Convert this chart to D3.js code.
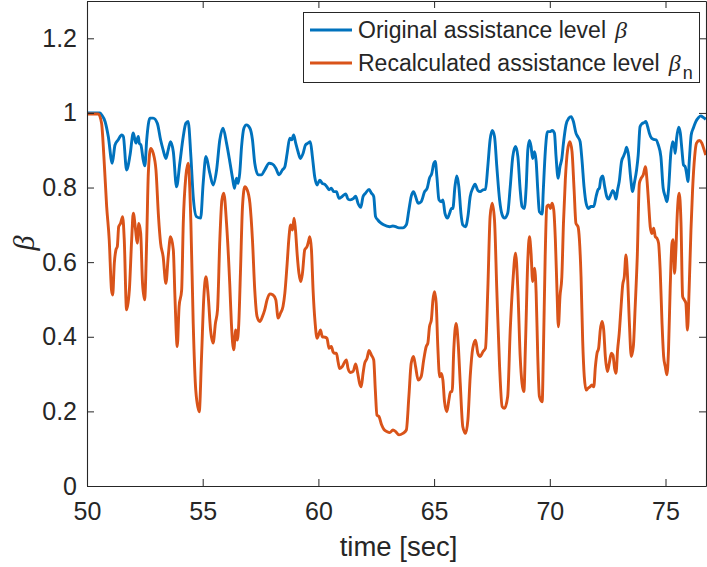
<!DOCTYPE html>
<html>
<head>
<meta charset="utf-8">
<script src="https://cdn.jsdelivr.net/npm/d3@7"></script>
<style>
  body { margin: 0; background: #fff; }
  #chart svg { display: block; }
</style>
</head>
<body>
<div id="chart"></div>
<script>
// Values: [time (s), beta]
const originalBeta = [
  [50.00,1.000],[50.56,1.000],[50.63,0.995],[50.78,0.977],[50.92,0.937],[51.09,0.865],[51.21,0.914],[51.35,0.928],
  [51.50,0.941],[51.57,0.937],[51.71,0.847],[51.86,0.887],[52.00,0.946],[52.11,0.919],[52.22,0.937],[52.26,0.919],
  [52.33,0.914],[52.43,0.874],[52.50,0.858],[52.58,0.928],[52.72,0.986],[52.86,0.986],[53.04,0.972],[53.18,0.928],
  [53.29,0.901],[53.41,0.878],[53.51,0.901],[53.61,0.923],[53.73,0.896],[53.87,0.802],[54.01,0.865],[54.16,0.937],
  [54.27,0.972],[54.37,0.977],[54.49,0.883],[54.59,0.776],[54.73,0.722],[54.91,0.718],[55.02,0.811],[55.14,0.883],
  [55.31,0.838],[55.45,0.807],[55.60,0.847],[55.74,0.928],[55.88,0.959],[56.03,0.919],[56.17,0.870],[56.29,0.825],
  [56.37,0.798],[56.46,0.825],[56.53,0.811],[56.60,0.838],[56.68,0.910],[56.78,0.959],[56.89,0.968],[57.04,0.959],
  [57.15,0.928],[57.25,0.865],[57.40,0.834],[57.54,0.834],[57.68,0.847],[57.87,0.865],[58.01,0.863],[58.16,0.852],
  [58.30,0.834],[58.44,0.847],[58.55,0.856],[58.65,0.892],[58.76,0.932],[58.85,0.928],[58.93,0.941],[59.02,0.919],
  [59.12,0.896],[59.22,0.878],[59.34,0.892],[59.44,0.914],[59.55,0.919],[59.65,0.923],[59.74,0.883],[59.84,0.829],
  [59.94,0.807],[60.06,0.820],[60.17,0.811],[60.27,0.809],[60.37,0.802],[60.46,0.794],[60.56,0.798],[60.66,0.789],
  [60.78,0.789],[60.89,0.771],[61.03,0.776],[61.18,0.783],[61.28,0.769],[61.38,0.767],[61.52,0.771],[61.61,0.777],
  [61.71,0.758],[61.83,0.747],[61.93,0.776],[62.04,0.785],[62.19,0.795],[62.29,0.785],[62.39,0.776],[62.47,0.722],
  [62.57,0.713],[62.68,0.706],[62.82,0.700],[63.08,0.695],[63.22,0.697],[63.34,0.695],[63.48,0.692],[63.65,0.692],
  [63.80,0.700],[63.91,0.740],[64.01,0.776],[64.11,0.789],[64.20,0.776],[64.31,0.758],[64.44,0.762],[64.59,0.789],
  [64.70,0.798],[64.80,0.825],[64.90,0.838],[64.98,0.863],[65.05,0.870],[65.12,0.829],[65.21,0.767],[65.31,0.762],
  [65.38,0.767],[65.47,0.731],[65.58,0.718],[65.67,0.731],[65.75,0.744],[65.81,0.744],[65.90,0.802],[65.98,0.831],
  [66.07,0.802],[66.16,0.731],[66.24,0.700],[66.36,0.695],[66.46,0.722],[66.56,0.776],[66.67,0.798],[66.77,0.809],
  [66.89,0.792],[66.99,0.789],[67.11,0.794],[67.22,0.795],[67.32,0.856],[67.42,0.928],[67.51,0.953],[67.61,0.937],
  [67.71,0.856],[67.83,0.767],[67.94,0.727],[68.04,0.718],[68.18,0.731],[68.29,0.802],[68.40,0.883],[68.52,0.910],
  [68.62,0.883],[68.72,0.794],[68.80,0.749],[68.90,0.744],[68.98,0.802],[69.05,0.901],[69.12,0.926],[69.19,0.910],
  [69.26,0.878],[69.34,0.896],[69.41,0.870],[69.48,0.794],[69.55,0.735],[69.67,0.729],[69.72,0.794],[69.81,0.901],
  [69.90,0.950],[70.01,0.950],[70.10,0.953],[70.20,0.946],[70.27,0.883],[70.36,0.825],[70.44,0.856],[70.52,0.878],
  [70.59,0.919],[70.70,0.968],[70.82,0.986],[70.92,0.990],[71.02,0.977],[71.13,0.946],[71.22,0.935],[71.31,0.923],
  [71.39,0.874],[71.48,0.802],[71.57,0.758],[71.67,0.744],[71.78,0.749],[71.90,0.749],[72.00,0.776],[72.08,0.794],
  [72.14,0.798],[72.21,0.825],[72.29,0.831],[72.36,0.807],[72.46,0.776],[72.54,0.769],[72.63,0.780],[72.72,0.792],
  [72.79,0.785],[72.86,0.769],[72.93,0.794],[73.00,0.816],[73.10,0.870],[73.18,0.883],[73.26,0.896],[73.32,0.908],
  [73.41,0.883],[73.49,0.829],[73.58,0.789],[73.65,0.811],[73.75,0.847],[73.82,0.887],[73.90,0.963],[73.98,0.971],
  [74.08,0.974],[74.15,0.977],[74.23,0.963],[74.30,0.946],[74.40,0.932],[74.49,0.929],[74.59,0.928],[74.69,0.914],
  [74.80,0.883],[74.90,0.798],[74.99,0.776],[75.06,0.762],[75.13,0.794],[75.23,0.892],[75.31,0.923],[75.38,0.910],
  [75.42,0.892],[75.48,0.932],[75.57,0.962],[75.64,0.946],[75.71,0.901],[75.78,0.860],[75.85,0.856],[75.91,0.838],
  [75.97,0.816],[76.03,0.874],[76.11,0.941],[76.20,0.959],[76.31,0.977],[76.43,0.988],[76.53,0.992],[76.63,0.988],
  [76.74,0.983]
];

const recalculatedBeta = [
  [50.00,0.997],[50.49,0.997],[50.63,0.972],[50.73,0.883],[50.85,0.749],[50.96,0.660],[51.06,0.525],[51.11,0.512],
  [51.18,0.597],[51.25,0.633],[51.31,0.642],[51.37,0.695],[51.45,0.704],[51.54,0.722],[51.61,0.660],[51.71,0.472],
  [51.83,0.525],[51.93,0.660],[52.00,0.731],[52.10,0.686],[52.17,0.651],[52.24,0.704],[52.32,0.677],[52.40,0.543],
  [52.49,0.499],[52.58,0.660],[52.65,0.838],[52.75,0.905],[52.86,0.892],[52.98,0.847],[53.09,0.722],[53.18,0.651],
  [53.29,0.615],[53.41,0.543],[53.51,0.615],[53.61,0.668],[53.73,0.633],[53.80,0.508],[53.90,0.374],[53.98,0.481],
  [54.09,0.525],[54.16,0.704],[54.27,0.829],[54.37,0.865],[54.49,0.704],[54.59,0.436],[54.70,0.257],[54.85,0.199],
  [54.95,0.347],[55.05,0.508],[55.14,0.561],[55.24,0.508],[55.34,0.418],[55.45,0.383],[55.55,0.436],[55.64,0.472],
  [55.74,0.660],[55.83,0.767],[55.91,0.785],[56.03,0.704],[56.17,0.540],[56.24,0.436],[56.34,0.365],[56.43,0.418],
  [56.49,0.391],[56.56,0.436],[56.63,0.570],[56.72,0.749],[56.82,0.802],[56.92,0.794],[57.04,0.758],[57.15,0.660],
  [57.25,0.525],[57.35,0.454],[57.47,0.441],[57.58,0.454],[57.68,0.472],[57.78,0.499],[57.90,0.515],[58.04,0.512],
  [58.16,0.499],[58.26,0.450],[58.36,0.463],[58.47,0.481],[58.55,0.517],[58.65,0.597],[58.73,0.668],[58.80,0.700],
  [58.88,0.686],[58.95,0.718],[59.01,0.686],[59.09,0.615],[59.16,0.570],[59.24,0.548],[59.31,0.570],[59.41,0.633],
  [59.51,0.642],[59.57,0.655],[59.63,0.668],[59.70,0.633],[59.77,0.525],[59.86,0.436],[59.94,0.396],[60.03,0.409],
  [60.09,0.418],[60.17,0.400],[60.27,0.399],[60.37,0.396],[60.46,0.369],[60.56,0.374],[60.63,0.360],[60.70,0.356],
  [60.78,0.356],[60.85,0.333],[60.92,0.315],[61.03,0.320],[61.14,0.333],[61.21,0.338],[61.28,0.315],[61.38,0.304],
  [61.50,0.307],[61.61,0.327],[61.70,0.302],[61.78,0.275],[61.85,0.266],[61.93,0.302],[62.00,0.329],[62.10,0.342],
  [62.19,0.363],[62.29,0.351],[62.39,0.338],[62.46,0.257],[62.53,0.190],[62.62,0.186],[62.73,0.164],[62.83,0.152],
  [62.96,0.146],[63.08,0.143],[63.22,0.150],[63.34,0.146],[63.48,0.137],[63.65,0.141],[63.80,0.150],[63.91,0.240],
  [64.01,0.329],[64.11,0.347],[64.20,0.320],[64.31,0.284],[64.44,0.293],[64.55,0.338],[64.66,0.374],[64.73,0.383],
  [64.80,0.427],[64.88,0.445],[64.95,0.499],[65.02,0.521],[65.09,0.490],[65.16,0.374],[65.24,0.293],[65.31,0.302],
  [65.38,0.284],[65.45,0.226],[65.55,0.199],[65.64,0.231],[65.71,0.253],[65.78,0.253],[65.85,0.365],[65.95,0.436],
  [66.04,0.383],[66.13,0.275],[66.24,0.159],[66.36,0.141],[66.46,0.177],[66.56,0.293],[66.67,0.369],[66.79,0.391],
  [66.89,0.356],[66.99,0.347],[67.11,0.360],[67.22,0.369],[67.32,0.525],[67.42,0.722],[67.51,0.758],[67.61,0.713],
  [67.71,0.525],[67.83,0.320],[67.94,0.213],[68.04,0.208],[68.18,0.240],[68.29,0.418],[68.40,0.543],[68.52,0.624],
  [68.62,0.525],[68.72,0.347],[68.80,0.275],[68.88,0.253],[68.95,0.383],[69.05,0.606],[69.12,0.668],[69.19,0.624],
  [69.26,0.548],[69.34,0.584],[69.41,0.517],[69.48,0.347],[69.55,0.240],[69.67,0.226],[69.72,0.347],[69.80,0.615],
  [69.87,0.749],[69.95,0.753],[70.03,0.744],[70.10,0.758],[70.17,0.740],[70.24,0.660],[70.31,0.525],[70.37,0.427],
  [70.44,0.508],[70.52,0.561],[70.59,0.704],[70.67,0.820],[70.77,0.901],[70.87,0.923],[70.96,0.896],[71.05,0.794],
  [71.13,0.704],[71.22,0.695],[71.28,0.660],[71.35,0.561],[71.42,0.391],[71.49,0.293],[71.57,0.257],[71.65,0.262],
  [71.74,0.266],[71.82,0.271],[71.90,0.266],[71.97,0.320],[72.04,0.356],[72.11,0.369],[72.18,0.418],[72.26,0.441],
  [72.33,0.418],[72.40,0.347],[72.49,0.307],[72.57,0.329],[72.66,0.356],[72.73,0.351],[72.80,0.315],[72.86,0.302],
  [72.93,0.365],[73.00,0.409],[73.08,0.481],[73.15,0.539],[73.22,0.561],[73.29,0.619],[73.36,0.561],[73.44,0.436],
  [73.52,0.347],[73.61,0.374],[73.69,0.481],[73.78,0.615],[73.87,0.811],[73.95,0.825],[74.04,0.834],[74.13,0.856],
  [74.20,0.820],[74.27,0.758],[74.34,0.695],[74.41,0.677],[74.49,0.691],[74.56,0.668],[74.63,0.664],[74.70,0.651],
  [74.77,0.579],[74.85,0.436],[74.92,0.347],[74.99,0.320],[75.06,0.298],[75.13,0.365],[75.20,0.525],[75.28,0.651],
  [75.33,0.660],[75.39,0.570],[75.45,0.633],[75.51,0.731],[75.59,0.785],[75.67,0.704],[75.74,0.508],[75.81,0.499],
  [75.88,0.490],[75.95,0.418],[76.02,0.525],[76.10,0.686],[76.17,0.794],[76.26,0.883],[76.34,0.919],[76.46,0.926],
  [76.57,0.919],[76.67,0.901],[76.74,0.887]
];

const xTicks = [50, 55, 60, 65, 70, 75];
const yTicks = [0, 0.2, 0.4, 0.6, 0.8, 1, 1.2];
const xDomain = [50, 76.75];
const yDomain = [0, 1.3];

const seriesNames = ["Original assistance level", "Recalculated assistance level"];
const seriesColors = ["#0072BD", "#D95319"];

function init() {
    const width = 707;
    const height = 567;
    const left = 87, right = 706, top = 1, bottom = 486;
    const axisColor = "#262626";
    const sans = "'Liberation Sans', Arial, Helvetica, sans-serif";
    const serif = "'Liberation Serif', 'Times New Roman', serif";

    const svg = d3.select("#chart").append("svg")
        .attr("width", width)
        .attr("height", height);

    const x = d3.scaleLinear().domain(xDomain).range([left, right]);
    const y = d3.scaleLinear().domain(yDomain).range([bottom, top]);

    svg.append("defs").append("clipPath")
        .attr("id", "plot-clip")
        .append("rect")
        .attr("x", left).attr("y", top)
        .attr("width", right - left).attr("height", bottom - top);

    // lines
    const line = d3.line()
        .x(d => x(d[0]))
        .y(d => y(d[1]))
        .curve(d3.curveMonotoneX);

    const plot = svg.append("g").attr("clip-path", "url(#plot-clip)");
    [originalBeta, recalculatedBeta].forEach(function(data, i) {
        plot.append("path")
            .datum(data)
            .attr("fill", "none")
            .attr("stroke", seriesColors[i])
            .attr("stroke-width", 2.9)
            .attr("stroke-linejoin", "round")
            .attr("d", line);
    });

    // axes, ticks pointing inward like MATLAB
    const tickLen = 7;
    const xAxis = svg.append("g")
        .attr("transform", `translate(0,${bottom})`)
        .call(d3.axisBottom(x).tickValues(xTicks).tickSize(-tickLen).tickPadding(16).tickSizeOuter(0));
    const yAxis = svg.append("g")
        .attr("transform", `translate(${left},0)`)
        .call(d3.axisLeft(y).tickValues(yTicks).tickSize(-tickLen).tickPadding(10).tickSizeOuter(0)
            .tickFormat(d3.format("~g")));
    const xTop = svg.append("g")
        .attr("transform", `translate(0,${top})`)
        .call(d3.axisTop(x).tickValues(xTicks).tickSize(-tickLen).tickFormat("").tickSizeOuter(0));
    const yRight = svg.append("g")
        .attr("transform", `translate(${right},0)`)
        .call(d3.axisRight(y).tickValues(yTicks).tickSize(-tickLen).tickFormat("").tickSizeOuter(0));

    [xAxis, yAxis, xTop, yRight].forEach(function(g) {
        g.select(".domain").attr("stroke", axisColor).attr("stroke-width", 1.1);
        g.selectAll(".tick line").attr("stroke", axisColor).attr("stroke-width", 1);
        g.selectAll(".tick text")
            .attr("fill", axisColor)
            .style("font-family", sans)
            .style("font-size", "25px");
    });

    // axis labels
    svg.append("text")
        .attr("x", (left + right) / 2 + 2)
        .attr("y", 556)
        .attr("text-anchor", "middle")
        .attr("fill", axisColor)
        .style("font-family", sans)
        .style("font-size", "27.5px")
        .text("time [sec]");

    svg.append("text")
        .attr("transform", "translate(34,243) rotate(-90)")
        .attr("text-anchor", "middle")
        .attr("fill", axisColor)
        .style("font-family", serif)
        .style("font-style", "italic")
        .style("font-size", "30px")
        .text("β");

    // legend
    const legend = svg.append("g");
    legend.append("rect")
        .attr("x", 303.5).attr("y", 12.5)
        .attr("width", 396).attr("height", 70)
        .attr("fill", "#fff")
        .attr("stroke", axisColor)
        .attr("stroke-width", 1);

    const rowY = [30, 63];
    seriesNames.forEach(function(name, i) {
        legend.append("line")
            .attr("x1", 310).attr("x2", 352)
            .attr("y1", rowY[i]).attr("y2", rowY[i])
            .attr("stroke", seriesColors[i])
            .attr("stroke-width", 2.9);

        const t = legend.append("text")
            .attr("x", 358)
            .attr("y", rowY[i] + 8)
            .attr("fill", axisColor)
            .style("font-family", sans)
            .style("font-size", "23px");
        t.append("tspan").text(name);
        t.append("tspan")
            .attr("dx", 9)
            .style("font-family", serif)
            .style("font-style", "italic")
            .style("font-size", "24px")
            .text("β");
        if (i === 1) {
            t.append("tspan")
                .attr("dx", 2)
                .attr("dy", 8)
                .style("font-size", "18px")
                .text("n");
        }
    });
}

window.addEventListener('load', init);
</script>
</body>
</html>
